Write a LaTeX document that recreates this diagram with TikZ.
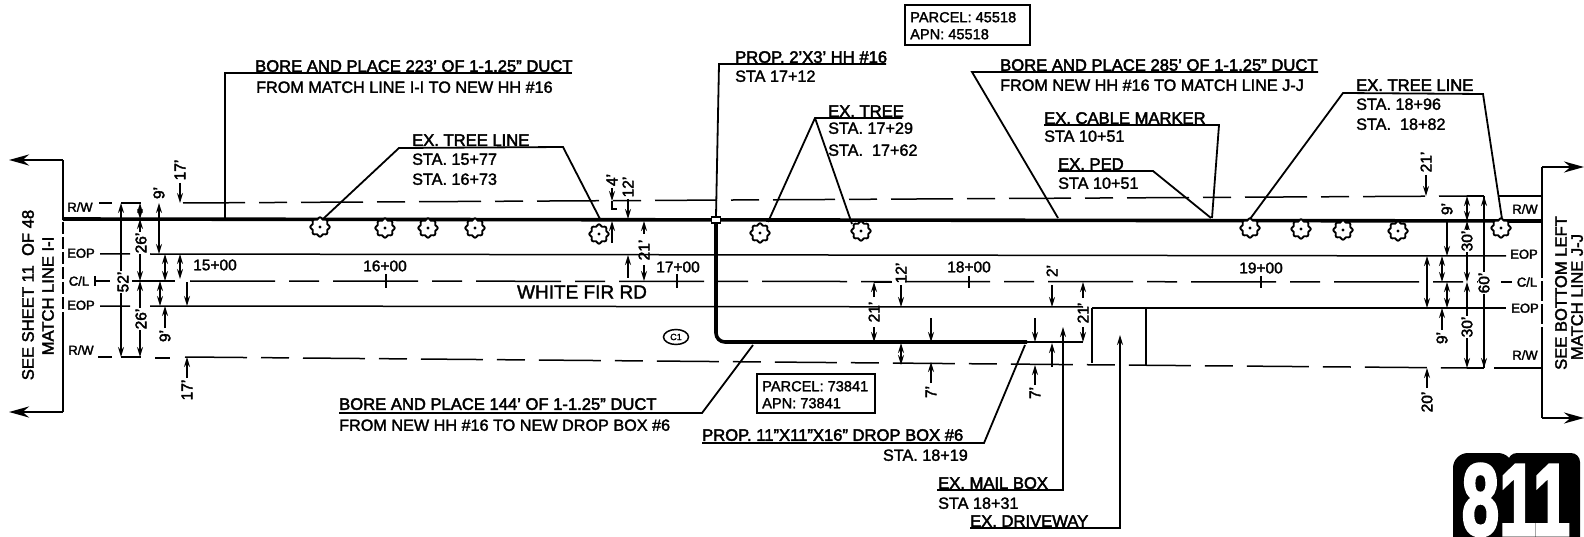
\documentclass[tikz,border=0pt]{standalone}
\usepackage{fontspec}
\usetikzlibrary{arrows.meta,shapes.geometric}
\setmainfont{Liberation Sans}[FakeBold=1.8]
\newfontfamily\logofont{Liberation Sans Bold}[FakeBold=3]
\tikzset{
 x=1pt,y=-1pt,
 lbl/.style={font=\fontsize{16.2}{18}\selectfont,inner sep=0pt,text height=11.6pt,text depth=0pt,anchor=west,text=black},
 hdg/.style={lbl,font=\fontsize{16.6}{18}\selectfont\addfontfeature{FakeBold=2.6}},
 plbl/.style={lbl,font=\fontsize{14.6}{16}\selectfont,text height=10.5pt},
 tag/.style={font=\fontsize{13}{14}\selectfont\addfontfeature{FakeBold=2.2},inner sep=0pt,text height=9.4pt,text depth=0pt,anchor=center},
 sheet/.style={font=\fontsize{16.6}{18}\selectfont\addfontfeature{FakeBold=2.2},inner sep=0pt,rotate=90,anchor=center},
 dim/.style={font=\fontsize{15.5}{16}\selectfont\addfontfeature{FakeBold=2.4},inner sep=1pt,rotate=90,fill=white,anchor=center},
 sta/.style={font=\fontsize{15.5}{16}\selectfont,inner sep=0pt,anchor=center},
 road/.style={line width=1.5pt,black},
 rowline/.style={road,dash pattern=on 62pt off 14pt on 28pt off 14pt},
 thick main/.style={line width=3.6pt,black},
 duct/.style={line width=3.6pt,black,rounded corners=9pt},
 leader/.style={line width=1.8pt,black},
 da/.style={line width=1.5pt,-{Stealth[length=10pt,width=6pt]}},
 dd/.style={line width=1.5pt,{Stealth[length=10pt,width=6pt]}-{Stealth[length=10pt,width=6pt]}},
 match/.style={line width=2.8pt,black},
 marr/.style={line width=2.6pt,-{Stealth[length=20pt,width=11pt]}},
 pbox/.style={draw,line width=1.6pt,fill=white},
 tick/.style={line width=1.5pt}
}
\newcommand{\treeat}[3]{%
 \coordinate (#1) at (#2,#3);
 \draw[line width=1.9pt,fill=white,shift={(#2,#3)}] plot[domain=0:360,samples=49,smooth cycle] ({(8.8+0.9*cos(8*\x))*cos(\x)},{(8.8+0.9*cos(8*\x))*sin(\x)});
 \fill (#2,#3) circle (1.7pt);}
\begin{document}
\begin{tikzpicture}
\path[use as bounding box,clip] (0,0) rectangle (1584,537);
\fill[white] (0,0) rectangle (1584,537);
% road rows
\draw[rowline] (183,203) -- (1467,196);
\draw[road] (99,203) -- (112,203);
\draw[road] (1499,196) -- (1542,196);
\draw[thick main] (63,219) -- (1542,221);
\draw[road] (100,254) -- (130,254) (150,254) -- (1506,256);
\draw[road] (95,281) -- (110,281) (95,276) -- (95,286) (132,281) -- (175,281);
\draw[rowline,dash pattern=on 85pt off 14pt on 30pt off 14pt] (190,281) -- (1490,282);
\draw[road] (1501,282) -- (1512,282);
\draw[road] (100,306) -- (130,306) (150,306) -- (1083,307);
\draw[road] (1092,308) -- (1506,308);
\draw[road] (98,357) -- (112,357) (155,358) -- (170,358);
\draw[rowline] (185,357) -- (1467,368);
\draw[road] (1494,368) -- (1542,368);
% driveway
\draw[road] (1092,308) -- (1092,363) (1146,308) -- (1146,365);
% station ticks
\foreach \tx/\ty in {386/274,677/274,969/276,1261/276}{\draw[tick] (\tx,\ty) -- (\tx,288);}
\node[sta] (s15) at (215,265) {15+00};
\node[sta] (s16) at (385,266) {16+00};
\node[sta] (s17) at (678,267) {17+00};
\node[sta] (s18) at (969,267) {18+00};
\node[sta] (s19) at (1261,268) {19+00};
\node[font=\fontsize{19}{20}\selectfont,inner sep=0pt] (road) at (582,292) {WHITE FIR RD};
\node[draw,ellipse,line width=1.5pt,inner sep=0pt,minimum width=25pt,minimum height=15pt,font=\fontsize{9}{10}\selectfont] (c1) at (676,337) {C1};
% match lines
\draw[match] (63,160) -- (63,220) (63,316) -- (63,412);
\draw[line width=1.6pt,dash pattern=on 12pt off 3pt] (63,222) -- (63,316);
\draw[match] (1542,167) -- (1542,258) (1542,330) -- (1542,418);
\draw[line width=1.6pt,dash pattern=on 20pt off 3pt] (1542,258) -- (1542,330);
\coordinate (ml1) at (9,160); \coordinate (ml2) at (9,412);
\coordinate (mr1) at (1584,167); \coordinate (mr2) at (1584,418);
\draw[marr] (63,160) -- (ml1); \draw[marr] (63,412) -- (ml2);
\draw[marr] (1542,167) -- (mr1); \draw[marr] (1542,418) -- (mr2);
\node[sheet] (sh1) at (28,295) {SEE SHEET 11\ \ OF 48};
\node[sheet] (sh2) at (48,296) {MATCH LINE I-I};
\node[sheet] (sh3) at (1561,293) {SEE BOTTOM LEFT};
\node[sheet] (sh4) at (1577,297) {MATCH LINE J-J};
% row tags
\node[tag] (t1) at (80,207) {R/W};
\node[tag] (t2) at (81,253) {EOP};
\node[tag] (t3) at (79,281) {C/L};
\node[tag] (t4) at (81,305) {EOP};
\node[tag] (t5) at (81,350) {R/W};
\node[tag] (t6) at (1525,209) {R/W};
\node[tag] (t7) at (1524,254) {EOP};
\node[tag] (t8) at (1527,282) {C/L};
\node[tag] (t9) at (1525,308) {EOP};
\node[tag] (t10) at (1525,355) {R/W};
% left dims
\draw[line width=1.5pt] (121,203) -- (141,203) (121,357) -- (141,357);
\draw[dd] (121,203) -- (121,357);
\draw[dd] (140,203) -- (140,219);
\draw[dd] (140,219) -- (140,281);
\draw[dd] (140,281) -- (140,357);
\node[dim] (d52) at (123,282) {52'};
\node[dim] (d26a) at (141,243) {26'};
\node[dim] (d26b) at (141,319) {26'};
\draw[dd] (159,203) -- (159,254);
\node[dim,fill=none] (d9a) at (159,193) {9'};
\draw[dd] (165,254) -- (165,281);
\draw[dd] (160,281) -- (160,306);
\draw[da] (165,328) -- (165,306);
\node[dim,fill=none] (d9b) at (165,336) {9'};
\draw[da] (180,183) -- (180,203);
\node[dim,fill=none] (d17a) at (180,170) {17'};
\draw[dd] (180,254) -- (180,279);
\draw[da] (187,282) -- (187,306);
\draw[da] (187,378) -- (187,357);
\node[dim,fill=none] (d17b) at (187,390) {17'};
% middle dims
\draw[da] (612,188) -- (612,201);
\draw[tick] (612,201) -- (612,209) -- (617,209);
\node[dim,fill=none] (d4) at (612,180) {4'};
\draw[da] (612,243) -- (612,221);
\draw[da] (628,199) -- (628,219);
\node[dim,fill=none] (d12a) at (628,187) {12'};
\draw[da] (628,278) -- (628,255);
\draw[da] (644,234) -- (644,221);
\draw[da] (644,265) -- (644,281);
\node[dim,fill=none] (d21a) at (644,250) {21'};
\draw[tick] (874,282) -- (892,282);
\draw[da] (874,297) -- (874,282);
\draw[da] (874,327) -- (874,342);
\node[dim,fill=none] (d21b) at (874,312) {21'};
\draw[da] (901,285) -- (901,307);
\node[dim,fill=none] (d12b) at (901,273) {12'};
\draw[dd] (901,343) -- (901,365);
\draw[da] (931,318) -- (931,342);
\draw[da] (931,383) -- (931,362);
\node[dim,fill=none] (d7a) at (931,392) {7'};
\draw[da] (1052,285) -- (1052,307);
\node[dim,fill=none] (d2) at (1052,271) {2'};
\draw[da] (1052,367) -- (1052,343);
\draw[da] (1035,318) -- (1035,342);
\draw[da] (1035,385) -- (1035,365);
\node[dim,fill=none] (d7b) at (1035,393) {7'};
\draw[da] (1083,298) -- (1083,282);
\draw[da] (1083,327) -- (1083,342);
\node[dim,fill=none] (d21c) at (1083,313) {21'};
\draw[tick] (1027,342) -- (1083,342);
% right dims
\draw[da] (1426,175) -- (1426,196);
\node[dim,fill=none] (d21d) at (1426,162) {21'};
\draw[line width=1.5pt] (1467,196) -- (1484,196) (1467,368) -- (1484,368);
\draw[dd] (1467,196) -- (1467,221);
\draw[dd] (1467,221) -- (1467,282);
\draw[dd] (1467,282) -- (1467,368);
\draw[line width=2pt] (1484,196) -- (1484,368);
\draw[dd] (1484,196) -- (1484,368);
\node[dim] (d30a) at (1467,241) {30'};
\node[dim] (d30b) at (1467,327) {30'};
\node[dim] (d60) at (1484,283) {60'};
\draw[da] (1447,221) -- (1447,256);
\node[dim,fill=none] (d9c) at (1447,209) {9'};
\draw[dd] (1427,256) -- (1427,308);
\draw[dd] (1442,256) -- (1442,282);
\draw[dd] (1447,282) -- (1447,308);
\draw[da] (1442,330) -- (1442,308);
\node[dim,fill=none] (d9d) at (1442,338) {9'};
\draw[da] (1427,388) -- (1427,368);
\node[dim,fill=none] (d20) at (1427,402) {20'};
% trees
\treeat{tr1}{320}{227}\treeat{tr2}{385}{228}\treeat{tr3}{428}{228}\treeat{tr4}{475}{228}
\treeat{tr5}{599}{234}\treeat{tr6}{760}{233}\treeat{tr7}{861}{231}\treeat{tr8}{1250}{228}
\treeat{tr9}{1301}{229}\treeat{tr10}{1343}{230}\treeat{tr11}{1398}{231}\treeat{tr12}{1501}{228}
% duct
\coordinate (hh) at (716,220);
\coordinate (dbox) at (1027,342);
\draw[duct] (hh) -- (716,342) -- (dbox);
\node[draw,line width=1.8pt,fill=white,minimum width=9pt,minimum height=6pt,inner sep=0pt] (hhbox) at (716,220) {};
% leader: bore 223
\coordinate (a1) at (572,73); \coordinate (a2) at (225,73); \coordinate (a3) at (225,219);
\draw[leader] (a1) -- (a2) -- (a3);
\node[hdg] (n1) at (255,66) {BORE AND PLACE 223' OF 1-1.25" DUCT};
\node[lbl] (n2) at (256,87) {FROM MATCH LINE I-I TO NEW HH \#16};
% tree line left
\coordinate (b1) at (399,148); \coordinate (b2) at (563,147);
\draw[leader] (tr1) ++(3,-8) -- (b1) -- (b2) -- (600,219);
\node[hdg] (n3) at (412,140) {EX. TREE LINE};
\node[lbl] (n4) at (412,159) {STA. 15+77};
\node[lbl] (n5) at (412,179) {STA. 16+73};
% HH 16
\coordinate (c2) at (886,64); \coordinate (c3) at (719,64);
\draw[leader] (c2) -- (c3) -- (hhbox.north);
\node[hdg] (n6) at (735,57) {PROP. 2'X3' HH \#16};
\node[lbl] (n7) at (735,76) {STA 17+12};
% ex tree
\coordinate (e1) at (902,118); \coordinate (e2) at (815,118);
\draw[leader] (e1) -- (e2) -- (768,222);
\draw[leader] (e2) -- (852,224);
\node[hdg] (n8) at (828,111) {EX. TREE};
\node[lbl] (n9) at (828,128) {STA. 17+29};
\node[lbl] (n10) at (828,150) {STA.\ \ 17+62};
% parcel top
\node[pbox,minimum width=125pt,minimum height=40pt] (p1) at (967.5,25) {};
\node[plbl] (p1a) at (910,17) {PARCEL: 45518};
\node[plbl] (p1b) at (910,34) {APN: 45518};
% bore 285
\coordinate (f1) at (1318,72); \coordinate (f2) at (972,72); \coordinate (f3) at (1058,218);
\draw[leader] (f1) -- (f2) -- (f3);
\node[hdg] (n11) at (1000,65) {BORE AND PLACE 285' OF 1-1.25" DUCT};
\node[lbl] (n12) at (1000,85) {FROM NEW HH \#16 TO MATCH LINE J-J};
% cable marker
\coordinate (g1) at (1044,125); \coordinate (g2) at (1219,125); \coordinate (g3) at (1212,218);
\draw[leader] (g1) -- (g2) -- (g3);
\node[hdg] (n13) at (1044,118) {EX. CABLE MARKER};
\node[lbl] (n14) at (1044,136) {STA 10+51};
% ped
\coordinate (h1) at (1058,171); \coordinate (h2) at (1153,171); \coordinate (h3) at (1211,218);
\draw[leader] (h1) -- (h2) -- (h3);
\node[hdg] (n15) at (1058,164) {EX. PED};
\node[lbl] (n16) at (1058,183) {STA 10+51};
% tree line right
\coordinate (i1) at (1343,93); \coordinate (i2) at (1483,94);
\draw[leader] (1250,219) -- (i1) -- (i2) -- (1502,219);
\node[hdg] (n17) at (1356,85) {EX. TREE LINE};
\node[lbl] (n18) at (1356,104) {STA. 18+96};
\node[lbl] (n19) at (1356,124) {STA.\ \ 18+82};
% bore 144
\coordinate (j1) at (339,413); \coordinate (j2) at (702,413); \coordinate (j3) at (753,345);
\draw[leader] (j1) -- (j2) -- (j3);
\node[hdg] (n20) at (339,404) {BORE AND PLACE 144' OF 1-1.25" DUCT};
\node[lbl] (n21) at (339,425) {FROM NEW HH \#16 TO NEW DROP BOX \#6};
% parcel bottom
\node[pbox,minimum width=118pt,minimum height=39pt] (p2) at (816,393.5) {};
\node[plbl] (p2a) at (762,386) {PARCEL: 73841};
\node[plbl] (p2b) at (762,403) {APN: 73841};
% drop box
\coordinate (k1) at (702,443); \coordinate (k2) at (984,443); \coordinate (k3) at (1025,345);
\draw[leader] (k1) -- (k2) -- (k3);
\node[hdg] (n22) at (702,435) {PROP. 11"X11"X16" DROP BOX \#6};
\node[lbl,anchor=east] (n23) at (968,455) {STA. 18+19};
% mail box
\coordinate (l1) at (937,490); \coordinate (l2) at (1063,490);
\draw[leader] (l1) -- (l2) -- (1063,337);
\draw[da] (1063,340) -- (1063,327);
\node[hdg] (n24) at (938,483) {EX. MAIL BOX};
\node[lbl] (n25) at (938,503) {STA 18+31};
% driveway
\coordinate (m1) at (970,528); \coordinate (m2) at (1120,528); \coordinate (m3) at (1120,335);
\draw[leader] (m1) -- (m2) -- (1120,345);
\draw[da] (1120,350) -- (m3);
\node[hdg] (n26) at (970,521) {EX. DRIVEWAY};
% logo
\fill[rounded corners=15pt] (1453,560) rectangle (1513,453);
\fill[rounded corners=9pt] (1508,560) rectangle (1580,453);
\node[inner sep=0pt,anchor=base,xscale=0.66,font=\logofont\fontsize{102}{102}\selectfont,text=white] (logo) at (1516,535) {811};
\end{tikzpicture}
\end{document}
